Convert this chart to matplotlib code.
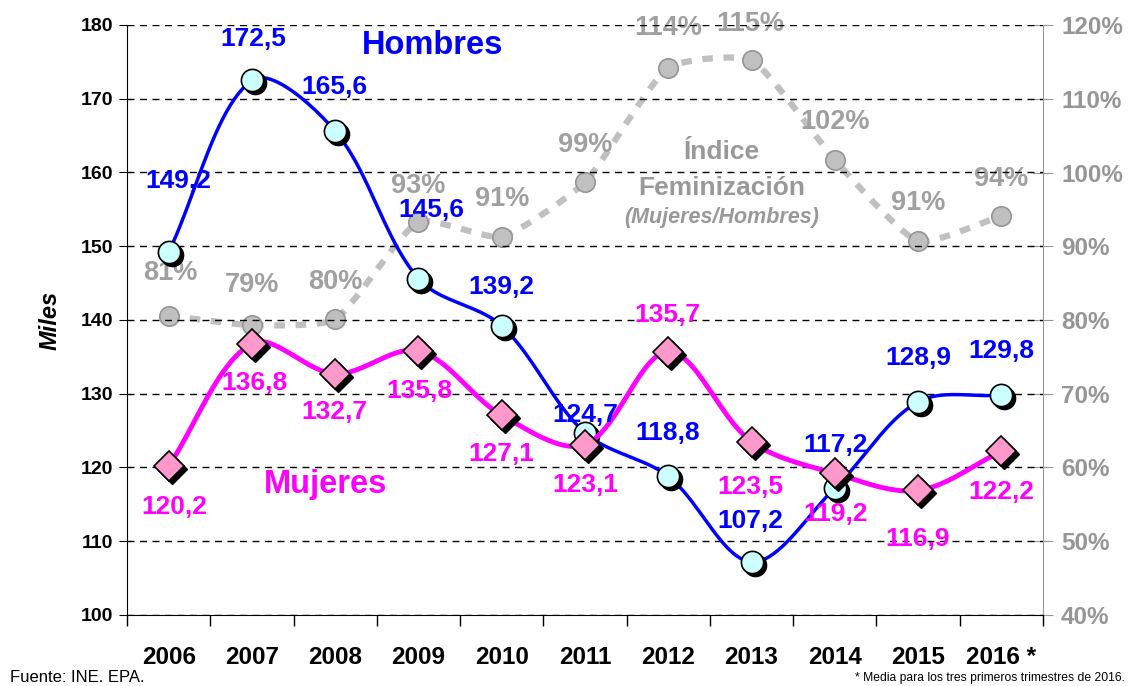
import numpy as np
import matplotlib
matplotlib.use("Agg")
import matplotlib.pyplot as plt
import matplotlib.transforms as mtransforms

# data
years = ["2006", "2007", "2008", "2009", "2010", "2011", "2012", "2013", "2014", "2015", "2016 *"]
hombres = [149.2, 172.5, 165.6, 145.6, 139.2, 124.7, 118.8, 107.2, 117.2, 128.9, 129.8]
mujeres = [120.2, 136.8, 132.7, 135.8, 127.1, 123.1, 135.7, 123.5, 119.2, 116.9, 122.2]
indice = [80.6, 79.3, 80.1, 93.3, 91.3, 98.7, 114.2, 115.2, 101.7, 90.7, 94.1]
indice_labels = ["81%", "79%", "80%", "93%", "91%", "99%", "114%", "115%", "102%", "91%", "94%"]

# label offsets in pixels (dx, dy up)
off_h = [(10, 71), (1, 41), (-1, 44), (13, 69), (0, 39), (0, 18), (-1, 43), (-1, 41), (1, 43), (0, 44), (0, 44)]
off_m = [(6, -41), (3, -39), (-1, -38), (1, -40), (0, -39), (0, -40), (-1, 37), (-1, -45), (1, -41), (0, -49), (0, -41)]
off_i = [(2, 43), (0, 40), (0, 37), (0, 36), (0, 38), (0, 37), (0, 40), (-1, 36), (0, 38), (0, 38), (0, 37)]

plt.rcParams['font.family'] = ['Liberation Sans', 'DejaVu Sans']

fig = plt.figure(figsize=(11.33, 6.86), dpi=100)
ax = fig.add_axes([127 / 1133, 71 / 686, 916 / 1133, 590 / 686])
ax2 = ax.twinx()

x = np.arange(len(years)) + 0.5


def smooth(xs, ys, tension=1.0, kx=83.3, ky=7.375, n=24):
    # Bezier smoothing like Excel, tangents weighted by segment lengths in pixel space
    P = np.column_stack([np.asarray(xs) * kx, np.asarray(ys) * ky])
    P = np.vstack([2 * P[0] - P[1], P, 2 * P[-1] - P[-2]])
    L = np.hypot(*(P[1:] - P[:-1]).T)
    t = np.linspace(0, 1, n)[:, None]
    out = []
    for i in range(1, len(P) - 2):
        p0, p1, p2, p3 = P[i - 1], P[i], P[i + 1], P[i + 2]
        c1 = p1 + tension * (p2 - p0) / 3 * L[i] / (L[i - 1] + L[i])
        c2 = p2 - tension * (p3 - p1) / 3 * L[i] / (L[i] + L[i + 1])
        out.append((1 - t) ** 3 * p1 + 3 * (1 - t) ** 2 * t * c1 + 3 * (1 - t) * t ** 2 * c2 + t ** 3 * p2)
    out = np.vstack(out)
    return out[:, 0] / kx, out[:, 1] / ky


shadow = mtransforms.ScaledTranslation(3 / 100, -3 / 100, fig.dpi_scale_trans)

# index line (right axis)
sx, sy = smooth(x, indice, tension=0.55)
ax2.plot(sx, sy / 100, color="#c0c0c0", lw=4.5, dashes=(1.7, 1.7), zorder=1, solid_capstyle="butt")
ax2.plot(x, np.array(indice) / 100, ls="none", marker="o", ms=14, mfc="#c0c0c0", mec="#969696", mew=1.2, zorder=2)
ax2.set_ylim(0.4, 1.2)
ax2.set_yticks(np.arange(0.4, 1.21, 0.1))
ax2.set_yticklabels([f"{v}%" for v in range(40, 121, 10)])
for i, lab in enumerate(indice_labels):
    ax2.annotate(lab, (x[i], indice[i] / 100), xytext=(off_i[i][0] * 0.72, off_i[i][1] * 0.72),
                 textcoords="offset points", ha="center", va="center", fontsize=19.5, fontweight="bold",
                 color="#a0a0a0", zorder=3)

ax.set_zorder(ax2.get_zorder() + 1)
ax.patch.set_visible(False)

# hombres
sx, sy = smooth(x, hombres)
ax.plot(sx, sy, color="#0000ff", lw=2.5, zorder=3)
ax.plot(x, hombres, ls="none", marker="o", ms=16, mfc="black", mec="black",
        transform=ax.transData + shadow, zorder=4)
ax.plot(x, hombres, ls="none", marker="o", ms=16, mfc="#ccffff", mec="black", mew=1.2, zorder=4)

# mujeres
sx, sy = smooth(x, mujeres)
ax.plot(sx, sy, color="#ff00ff", lw=3.5, zorder=5)
ax.plot(x, mujeres, ls="none", marker="D", ms=15, mfc="black", mec="black",
        transform=ax.transData + shadow, zorder=6)
ax.plot(x, mujeres, ls="none", marker="D", ms=15, mfc="#ff99cc", mec="black", mew=1.2, zorder=6)

for i in range(len(years)):
    ax.annotate(f"{hombres[i]:.1f}".replace(".", ","), (x[i], hombres[i]),
                xytext=(off_h[i][0] * 0.72, off_h[i][1] * 0.72), textcoords="offset points",
                ha="center", va="center", fontsize=19, fontweight="bold", color="#0000ff", zorder=7)
    ax.annotate(f"{mujeres[i]:.1f}".replace(".", ","), (x[i], mujeres[i]),
                xytext=(off_m[i][0] * 0.72, off_m[i][1] * 0.72), textcoords="offset points",
                ha="center", va="center", fontsize=19, fontweight="bold", color="#ff00ff", zorder=7)

ax.set_xlim(0, len(years))
ax.set_ylim(100, 180)
ax.set_yticks(range(100, 181, 10))
ax.yaxis.grid(True, color="black", ls=(0, (5, 4)), lw=1)
ax.set_axisbelow(True)
ax.set_xticks(range(len(years) + 1))
ax.set_xticklabels([])
ax.set_xticks(x, minor=True)
ax.set_xticklabels(years, minor=True, fontsize=17.5, fontweight="bold")
ax.tick_params(axis="x", which="minor", length=0, pad=22)
ax.tick_params(axis="x", which="major", length=8, direction="out", width=1)
ax.tick_params(axis="y", length=6, direction="out", labelsize=14, pad=4)
for t in ax.get_yticklabels():
    t.set_fontweight("bold")

for s in ["top", "right"]:
    ax.spines[s].set_visible(False)
for s in ["top", "left", "bottom"]:
    ax2.spines[s].set_visible(False)
ax2.spines["right"].set_color("#969696")
ax2.tick_params(axis="y", length=14, direction="inout", color="#969696", labelcolor="#969696",
                labelsize=17.5, pad=6)
for t in ax2.get_yticklabels():
    t.set_fontweight("bold")

ax.set_ylabel("Miles", fontsize=17, fontweight="bold", fontstyle="italic", labelpad=14)

fig.text(433 / 1133, 1 - 45 / 686, "Hombres", fontsize=23.5, fontweight="bold", color="#0000ff",
         ha="center", va="center", zorder=8)
fig.text(326 / 1133, 1 - 484 / 686, "Mujeres", fontsize=23.5, fontweight="bold", color="#ff00ff",
         ha="center", va="center", zorder=8)
fig.text(722 / 1133, 1 - 152 / 686, "Índice", fontsize=19, fontweight="bold", color="#999999",
         ha="center", va="center")
fig.text(722 / 1133, 1 - 188 / 686, "Feminización", fontsize=19, fontweight="bold", color="#999999",
         ha="center", va="center")
fig.text(722 / 1133, 1 - 217 / 686, "(Mujeres/Hombres)", fontsize=15.5, fontweight="bold",
         fontstyle="italic", color="#999999", ha="center", va="center")

fig.text(10 / 1133, 1 - 678 / 686, "Fuente: INE. EPA.", fontsize=12, ha="left", va="center")
fig.text(1125 / 1133, 1 - 678 / 686, "* Media para los tres primeros trimestres de 2016.", fontsize=8.7,
         ha="right", va="center")

fig.savefig("out.png", dpi=100)
